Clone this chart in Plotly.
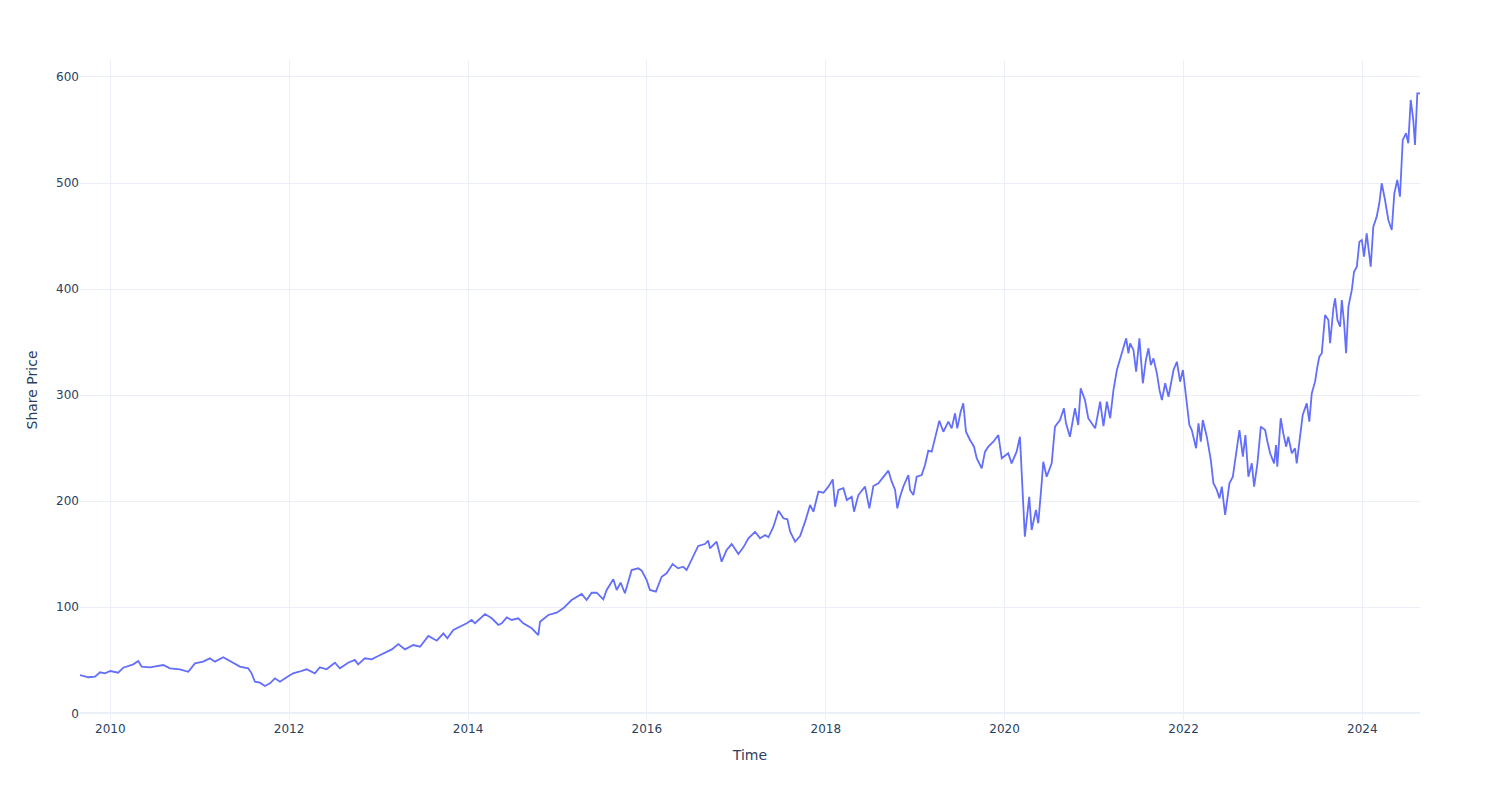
import numpy as np
import pandas as pd
import plotly.graph_objects as go

# Decimal years and share prices
years = [
    2009.661, 2009.754, 2009.829, 2009.885, 2009.941, 2010.000, 2010.089, 2010.145, 2010.257, 2010.313,
    2010.351, 2010.444, 2010.593, 2010.668, 2010.779, 2010.872, 2010.947, 2011.040, 2011.115, 2011.171,
    2011.264, 2011.319, 2011.375, 2011.450, 2011.543, 2011.581, 2011.618, 2011.674, 2011.730, 2011.786,
    2011.842, 2011.898, 2011.973, 2012.046, 2012.113,
    2012.196, 2012.289, 2012.345, 2012.420, 2012.513, 2012.569, 2012.661, 2012.736, 2012.773, 2012.848,
    2012.923, 2012.997, 2013.091, 2013.147, 2013.220, 2013.295, 2013.388, 2013.463, 2013.556, 2013.650,
    2013.724, 2013.768, 2013.835, 2013.929, 2013.985, 2014.041, 2014.078, 2014.190, 2014.265, 2014.339,
    2014.377, 2014.433, 2014.488, 2014.562, 2014.618, 2014.712, 2014.786, 2014.805, 2014.898, 2014.992,
    2015.065, 2015.159, 2015.271, 2015.327, 2015.383, 2015.439, 2015.513, 2015.551, 2015.625, 2015.663,
    2015.707, 2015.755, 2015.830, 2015.904, 2015.942, 2015.998, 2016.035, 2016.102, 2016.166, 2016.222,
    2016.289, 2016.351, 2016.407, 2016.445, 2016.501, 2016.575, 2016.650, 2016.687, 2016.706, 2016.781,
    2016.837, 2016.893, 2016.949, 2017.022, 2017.078, 2017.134, 2017.209, 2017.265, 2017.321, 2017.358,
    2017.414, 2017.470, 2017.526, 2017.570, 2017.601, 2017.656, 2017.712, 2017.768, 2017.824, 2017.861,
    2017.917, 2017.973,
    2018.029, 2018.078, 2018.104, 2018.141, 2018.197, 2018.235, 2018.290, 2018.316, 2018.364, 2018.439,
    2018.487, 2018.532, 2018.588, 2018.644, 2018.700, 2018.737, 2018.775, 2018.800, 2018.830, 2018.867,
    2018.923, 2018.942, 2018.979, 2019.017, 2019.073, 2019.110, 2019.147, 2019.185, 2019.222, 2019.270,
    2019.315, 2019.371, 2019.408, 2019.446, 2019.471, 2019.509, 2019.538, 2019.568, 2019.613, 2019.658,
    2019.688, 2019.744, 2019.781, 2019.818, 2019.874, 2019.930, 2019.968, 2020.041,
    2020.079, 2020.135, 2020.172, 2020.202, 2020.227, 2020.276, 2020.303, 2020.351, 2020.377, 2020.415,
    2020.433, 2020.471, 2020.527, 2020.564, 2020.620, 2020.664, 2020.687, 2020.731, 2020.787, 2020.824,
    2020.851, 2020.899, 2020.936, 2021.011, 2021.067, 2021.104, 2021.142, 2021.179, 2021.216, 2021.254,
    2021.298, 2021.358, 2021.383, 2021.402, 2021.439, 2021.469, 2021.506, 2021.544, 2021.578, 2021.607,
    2021.634, 2021.663, 2021.701, 2021.730, 2021.757, 2021.794, 2021.831, 2021.887, 2021.925, 2021.961,
    2021.992, 2022.036, 2022.065,
    2022.092, 2022.140, 2022.167, 2022.193, 2022.215, 2022.260, 2022.305, 2022.334, 2022.372, 2022.401,
    2022.428, 2022.465, 2022.513, 2022.551, 2022.588, 2022.625, 2022.663, 2022.692, 2022.725, 2022.763,
    2022.789, 2022.826, 2022.864, 2022.912, 2022.938, 2022.968, 2023.013, 2023.035, 2023.049, 2023.087,
    2023.116, 2023.147, 2023.172, 2023.211, 2023.247, 2023.266, 2023.303, 2023.333, 2023.378, 2023.407,
    2023.434, 2023.471, 2023.497, 2023.519,
    2023.546, 2023.583, 2023.620, 2023.639, 2023.676, 2023.695, 2023.721, 2023.751, 2023.770, 2023.796,
    2023.818, 2023.844, 2023.882, 2023.907, 2023.938, 2023.967, 2023.994, 2024.019, 2024.049, 2024.094,
    2024.123, 2024.161, 2024.190, 2024.217, 2024.254, 2024.291, 2024.329, 2024.358, 2024.391, 2024.421,
    2024.452, 2024.489, 2024.514, 2024.541, 2024.570, 2024.589, 2024.615, 2024.645,
]

prices = [
    36.1, 34.0, 34.5, 38.7, 37.7, 39.9, 38.3, 43.0, 46.2, 49.3,
    44.0, 43.4, 45.5, 42.4, 41.5, 39.2, 47.1, 48.7, 51.9, 48.7,
    52.8, 50.3, 48.1, 44.0, 42.4, 37.7, 29.8, 28.9, 25.7, 28.3,
    33.0, 29.8, 34.0, 37.7, 39.2,
    41.5, 37.7, 43.4, 41.5, 47.7, 42.4, 47.7, 50.3, 46.2, 51.9,
    50.9, 54.0, 58.1, 60.3, 65.3, 60.3, 64.4, 62.8, 72.9, 68.5,
    75.4, 70.7, 78.5, 82.3, 84.9, 88.0, 84.9, 93.6, 89.6, 83.3,
    84.9, 90.5, 88.0, 89.6, 84.9, 80.2, 73.8, 86.4, 92.7, 94.9,
    99.0, 106.8, 112.5, 106.8, 113.7, 113.7, 107.5, 116.3, 126.4, 116.3,
    123.2, 113.2, 135.1, 136.7, 134.5, 125.7, 116.3, 114.7, 128.8, 132.0,
    140.8, 136.7, 138.2, 135.1, 145.2, 157.8, 159.6, 162.8, 155.6, 161.8,
    143.0, 154.0, 159.6, 150.2, 156.5, 165.0, 171.2, 165.0, 168.1, 166.0,
    176.0, 191.0, 183.9, 182.9, 171.2, 161.8, 167.2, 180.7, 196.4, 190.1,
    209.0, 208.0,
    213.7, 220.6, 194.8, 210.6, 212.2, 201.1, 204.2, 190.1, 205.8, 213.7,
    193.3, 214.3, 216.9, 223.1, 228.8, 218.4, 210.6, 193.3, 204.2, 213.7,
    224.7, 210.6, 205.8, 223.1, 224.7, 234.1, 247.6, 246.7, 259.3, 275.9,
    265.5, 275.0, 268.7, 282.9, 268.7, 284.4, 292.3, 265.5, 257.7, 251.4,
    240.5, 231.0, 246.7, 251.4, 256.1, 262.4, 240.5, 245.2,
    235.7, 246.7, 260.8, 213.7, 166.5, 204.2, 172.8, 191.7, 179.2, 216.9,
    237.2, 223.1, 235.7, 270.3, 276.6, 287.6, 273.5, 260.8, 287.6, 271.9,
    306.5, 295.4, 278.2, 268.7, 293.8, 270.9, 293.8, 278.2, 304.9, 323.7,
    336.3, 353.6, 339.5, 348.9, 342.6, 322.1, 353.6, 311.2, 333.1, 344.2,
    328.4, 334.7, 320.6, 304.9, 295.4, 311.2, 298.5, 323.7, 331.5, 312.7,
    323.7, 292.3, 271.9,
    267.1, 249.9, 273.5, 256.1, 276.6, 260.8, 238.8, 216.9, 210.6, 202.7,
    213.7, 187.0, 216.9, 223.1, 245.2, 267.1, 242.0, 262.4, 223.1, 235.7,
    213.7, 235.7, 270.3, 267.1, 256.1, 245.2, 235.7, 253.0, 232.5, 278.2,
    264.0, 251.4, 260.8, 245.2, 249.9, 235.7, 260.8, 281.3, 292.3, 275.0,
    301.7, 312.7, 326.8, 336.3,
    339.5, 375.6, 370.9, 348.9, 381.9, 391.3, 370.9, 364.5, 389.7, 367.7,
    339.5, 383.4, 399.2, 416.4, 421.1, 444.7, 446.3, 430.6, 452.6, 421.1,
    458.8, 468.3, 480.9, 499.8, 484.0, 465.2, 455.7, 490.3, 502.9, 487.1,
    540.6, 546.9, 537.5, 578.3, 559.5, 535.9, 584.6, 584.6,
]

yrs = np.array(years)
whole = np.floor(yrs).astype(int)
frac = yrs - whole
dates = pd.to_datetime([f"{y}-01-01" for y in whole]) + pd.to_timedelta(frac * 365.25, unit="D")

fig = go.Figure()
fig.add_trace(go.Scatter(
    x=dates, y=prices, mode="lines",
    line=dict(color="#636efa", width=1.8),
    showlegend=False,
))

fig.update_layout(
    template="plotly_white",
    font=dict(family="DejaVu Sans", color="#2a3f5f"),
    margin=dict(t=52, l=72, r=72, b=72),
    xaxis=dict(title=dict(text="Time"), showgrid=True, gridcolor="#ebf0f8"),
    yaxis=dict(title=dict(text="Share Price"), range=[-6.3, 616], dtick=100,
               gridcolor="#ebf0f8", zerolinecolor="#ebf0f8", zerolinewidth=2),
)

fig.write_html("out.html")
